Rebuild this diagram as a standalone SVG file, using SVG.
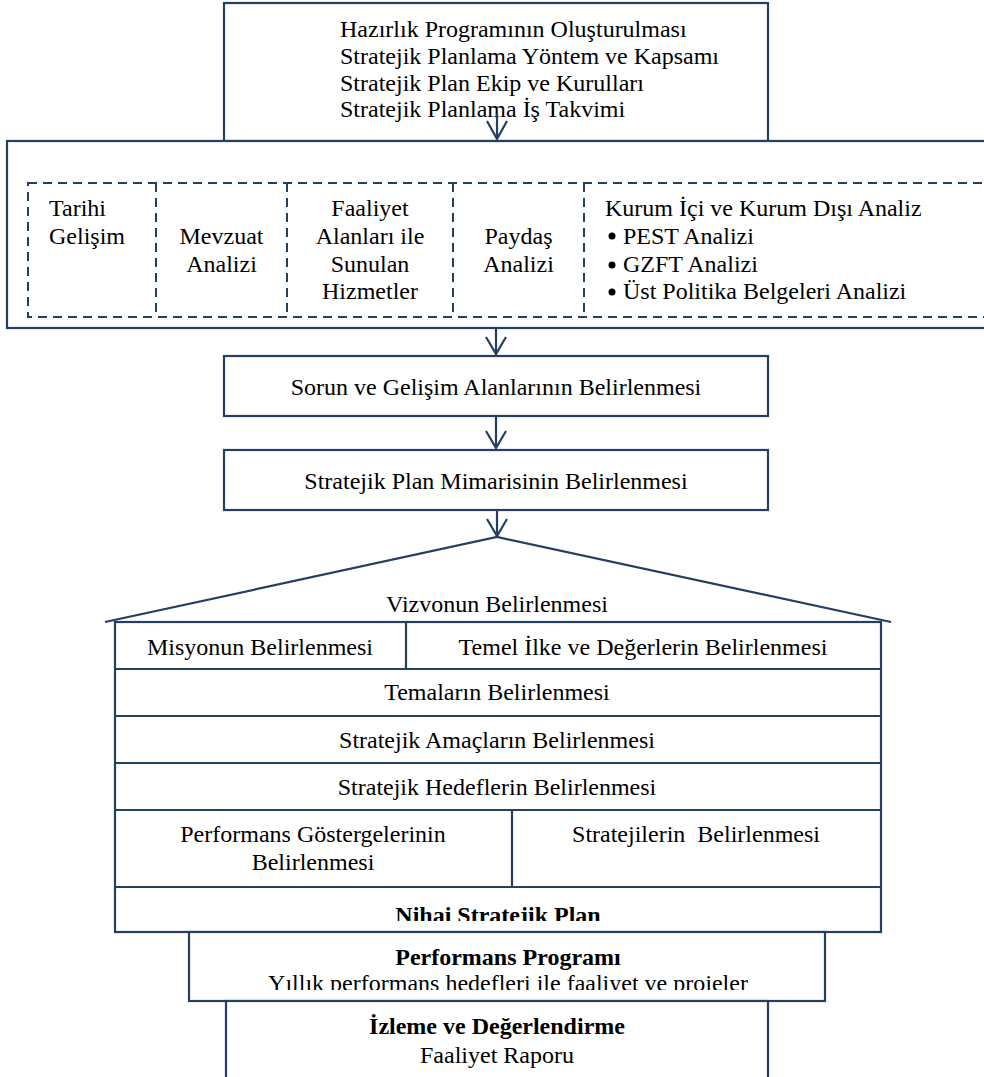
<svg xmlns="http://www.w3.org/2000/svg" width="984" height="1077" viewBox="0 0 984 1077">
<style>
.b{fill:#fff;stroke:#243F60;stroke-width:2.2}
.n{fill:none;stroke:#243F60;stroke-width:2.2}
.d{fill:none;stroke:#243F60;stroke-width:2;stroke-dasharray:9 6}
.a{fill:none;stroke:#243F60;stroke-width:2.2}
text{font-family:"Liberation Serif","Times New Roman",serif;font-size:24px;fill:#000}
.c{text-anchor:middle}
.bd{font-weight:bold}
</style>
<defs>
<clipPath id="clipN"><rect x="115" y="890" width="766" height="31"/></clipPath>
<clipPath id="clipY"><rect x="189" y="970" width="636" height="20"/></clipPath>
</defs>
<rect width="984" height="1077" fill="#fff"/>

<g id="hazirlik">
<rect class="b" x="224" y="3" width="544" height="138"/>
<text x="340" y="37">Hazırlık Programının Oluşturulması</text>
<text x="340" y="64">Stratejik Planlama Yöntem ve Kapsamı</text>
<text x="340" y="91">Stratejik Plan Ekip ve Kurulları</text>
<text x="340" y="117">Stratejik Planlama İş Takvimi</text>
</g>

<g id="analiz">
<rect class="b" x="7" y="141" width="990" height="187"/>
<rect class="d" x="28" y="183" width="970" height="134"/>
<line class="d" x1="156" y1="183" x2="156" y2="317"/>
<line class="d" x1="287" y1="183" x2="287" y2="317"/>
<line class="d" x1="453" y1="183" x2="453" y2="317"/>
<line class="d" x1="584" y1="183" x2="584" y2="317"/>
<g id="tarihi"><text x="49" y="216">Tarihi</text><text x="49" y="244">Gelişim</text></g>
<g id="mevzuat"><text class="c" x="221.5" y="244">Mevzuat</text><text class="c" x="221.5" y="272">Analizi</text></g>
<g id="faaliyet"><text class="c" x="370" y="216">Faaliyet</text><text class="c" x="370" y="244">Alanları ile</text><text class="c" x="370" y="272">Sunulan</text><text class="c" x="370" y="299">Hizmetler</text></g>
<g id="paydas"><text class="c" x="518.5" y="244">Paydaş</text><text class="c" x="518.5" y="272">Analizi</text></g>
<g id="kurum">
<text x="605" y="216">Kurum İçi ve Kurum Dışı Analiz</text>
<circle cx="612" cy="236" r="3.5" fill="#000"/><text x="623" y="244">PEST Analizi</text>
<circle cx="612" cy="265" r="3.5" fill="#000"/><text x="623" y="272">GZFT Analizi</text>
<circle cx="612" cy="292" r="3.5" fill="#000"/><text x="623" y="299">Üst Politika Belgeleri Analizi</text>
</g>
</g>

<g id="sorun">
<rect class="b" x="224" y="356" width="544" height="60"/>
<text class="c" x="496" y="395">Sorun ve Gelişim Alanlarının Belirlenmesi</text>
</g>

<g id="mimari">
<rect class="b" x="224" y="450" width="544" height="60"/>
<text class="c" x="496" y="489">Stratejik Plan Mimarisinin Belirlenmesi</text>
</g>

<g id="ev">
<polyline class="n" points="105,622 497,537 891,622"/>
<rect class="b" x="115" y="622" width="766" height="310"/>
<text class="c" x="497" y="612">Vizvonun Belirlenmesi</text>
<line class="n" x1="115" y1="669" x2="881" y2="669"/>
<line class="n" x1="406" y1="622" x2="406" y2="669"/>
<text class="c" x="260" y="655">Misyonun Belirlenmesi</text>
<text class="c" x="643" y="655">Temel İlke ve Değerlerin Belirlenmesi</text>
<line class="n" x1="115" y1="716" x2="881" y2="716"/>
<text class="c" x="497" y="700">Temaların Belirlenmesi</text>
<line class="n" x1="115" y1="763" x2="881" y2="763"/>
<text class="c" x="497" y="748">Stratejik Amaçların Belirlenmesi</text>
<line class="n" x1="115" y1="810" x2="881" y2="810"/>
<text class="c" x="497" y="795">Stratejik Hedeflerin Belirlenmesi</text>
<line class="n" x1="115" y1="887" x2="881" y2="887"/>
<line class="n" x1="512" y1="810" x2="512" y2="887"/>
<text class="c" x="313" y="842">Performans Göstergelerinin</text>
<text class="c" x="313" y="870">Belirlenmesi</text>
<text class="c" x="696" y="842" xml:space="preserve">Stratejilerin  Belirlenmesi</text>
<text class="c bd" x="498" y="923" clip-path="url(#clipN)">Nihai Stratejik Plan</text>
</g>

<g id="performans">
<rect class="b" x="189" y="932" width="636" height="69"/>
<text class="c bd" x="508" y="965">Performans Programı</text>
<text class="c" x="508" y="991" clip-path="url(#clipY)">Yıllık performans hedefleri ile faaliyet ve projeler</text>
</g>

<g id="izleme">
<rect class="b" x="226" y="1001" width="542" height="90"/>
<text class="c bd" x="497" y="1034">İzleme ve Değerlendirme</text>
<text class="c" x="497" y="1063">Faaliyet Raporu</text>
</g>

<g id="connectors">
<path class="a" d="M497,114 V139 M487,121 L497,139 L507,121"/>
<path class="a" d="M496,328 V354 M486,337 L496,354 L506,337"/>
<path class="a" d="M496,416 V448 M486,431 L496,448 L506,431"/>
<path class="a" d="M497,510 V536 M487,519 L497,536 L507,519"/>
</g>
</svg>
